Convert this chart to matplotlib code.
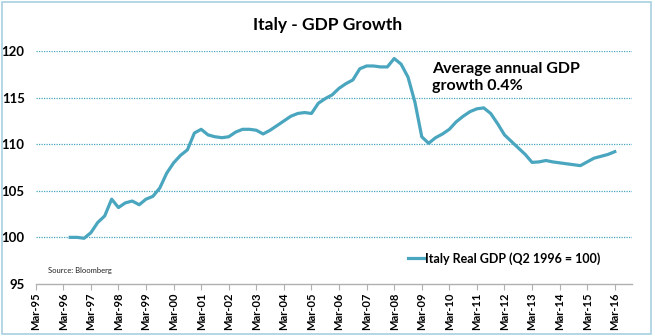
import numpy as np
import pandas as pd
import matplotlib
matplotlib.use("Agg")
import matplotlib.pyplot as plt
import matplotlib.dates as mdates
from matplotlib.patches import Rectangle

plt.rcParams['font.family'] = ['Lato', 'DejaVu Sans']

# quarterly real GDP index, Q2 1996 = 100
quarters = pd.date_range('1996-06-30', periods=80, freq='QE')
gdp = [100.0, 100.0, 99.9,
       100.5, 101.6, 102.3, 104.1,
       103.2, 103.7, 103.9, 103.5,
       104.1, 104.4, 105.3, 106.9,
       108.0, 108.8, 109.4, 111.2,
       111.6, 111.0, 110.8, 110.7,
       110.8, 111.3, 111.6, 111.6,
       111.5, 111.1, 111.5, 112.0,
       112.5, 113.0, 113.3, 113.4,
       113.3, 114.4, 114.9, 115.3,
       116.0, 116.5, 116.9, 118.1,
       118.4, 118.4, 118.3, 118.3,
       119.2, 118.6, 117.2, 114.5,
       110.8, 110.1, 110.7, 111.1,
       111.6, 112.4, 113.0, 113.5,
       113.8, 113.9, 113.3, 112.2,
       111.0, 110.3, 109.6, 108.9,
       108.05, 108.1, 108.25, 108.1,
       108.0, 107.9, 107.8, 107.7,
       108.1, 108.5, 108.7, 108.9,
       109.2]

tick_dates = pd.date_range('1995-03-31', '2016-03-31', freq='12ME')
y_ticks = [95, 100, 105, 110, 115, 120]

line_col = '#4aa6bf'

fig = plt.figure(figsize=(6.55, 3.36), dpi=100)
ax = fig.add_axes([0.0545, 0.155, 0.9105, 0.693])

ax.plot(quarters, gdp, color=line_col, lw=2.3, solid_joinstyle='round',
        label='Italy Real GDP (Q2 1996 = 100)')

ax.set_ylim(95, 120)
ax.set_yticks(y_ticks)
ax.set_xlim(mdates.date2num(pd.Timestamp('1995-03-31')),
            mdates.date2num(pd.Timestamp('2016-11-15')))
ax.set_xticks(tick_dates)
ax.xaxis.set_major_formatter(mdates.DateFormatter('%b-%y'))

for v in y_ticks[1:]:
    ax.axhline(v, color=line_col, lw=0.9, ls=(0, (1, 1)), zorder=0)

for s in ['top', 'right', 'left']:
    ax.spines[s].set_visible(False)
ax.spines['bottom'].set_color('#b0b0b0')
ax.spines['bottom'].set_linewidth(1.0)

ax.tick_params(axis='y', length=0, pad=8, labelsize=9.5)
ax.tick_params(axis='x', length=4, color='#b0b0b0', direction='out',
               labelsize=8, pad=2)
for lab in ax.get_yticklabels():
    lab.set_fontweight('bold')
for lab in ax.get_xticklabels():
    lab.set_rotation(90)
    lab.set_fontweight('bold')

ax.text(0.02, 0.045, 'Source: Bloomberg', transform=ax.transAxes,
        fontsize=5.5, color='#222222')

ax.text(0.665, 0.955, 'Average annual GDP\ngrowth 0.4%', transform=ax.transAxes,
        fontsize=11.5, fontweight='bold', va='top', ha='left', linespacing=1.35)

leg = ax.legend(loc='center left', bbox_to_anchor=(0.625, 0.11),
                frameon=False, handlelength=1.3, handletextpad=0.05,
                borderpad=0, borderaxespad=0,
                prop={'weight': 'bold', 'size': 9})

fig.text(0.5, 0.925, 'Italy - GDP Growth', ha='center', va='center',
         fontsize=12.5, fontweight='bold')

fig.patches.append(Rectangle((0.003, 0.006), 0.991, 0.988, transform=fig.transFigure,
                             fill=False, edgecolor='#a9cfe0', lw=1.2))

fig.savefig('out.png', dpi=100)
